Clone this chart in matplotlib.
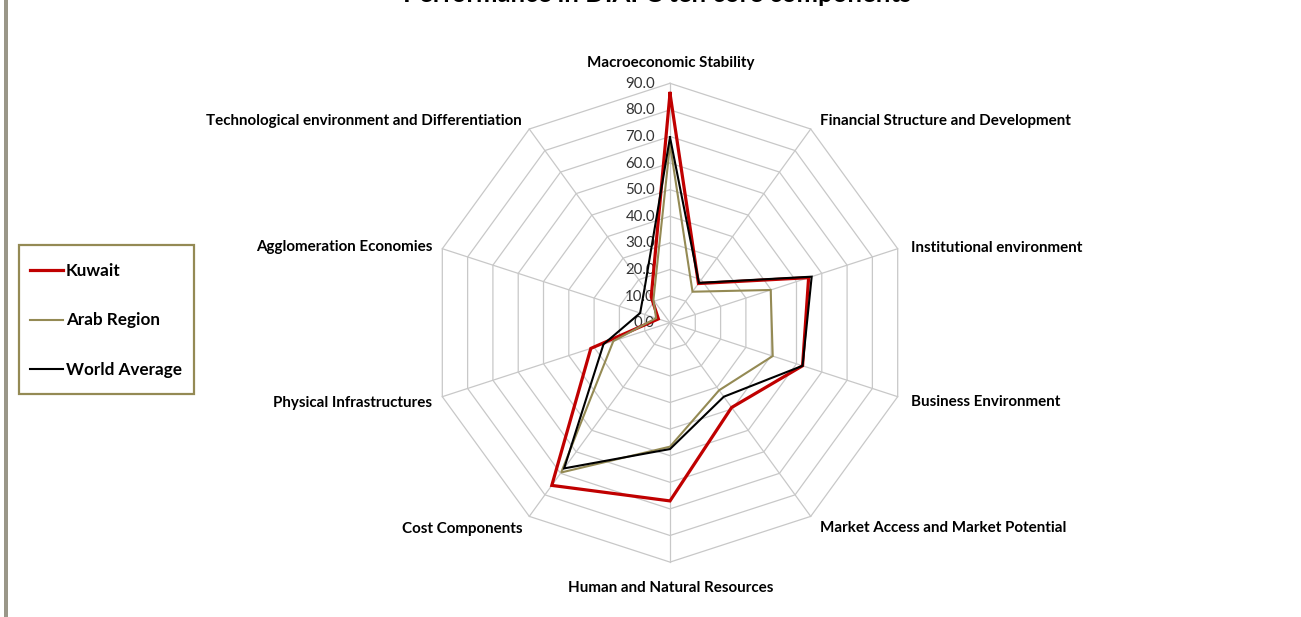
import numpy as np
import matplotlib.pyplot as plt
from matplotlib.patches import Rectangle

# Core component names, clockwise from the top
components = [
    "Macroeconomic Stability",
    "Financial Structure and Development",
    "Institutional environment",
    "Business Environment",
    "Market Access and Market Potential",
    "Human and Natural Resources",
    "Cost Components",
    "Physical Infrastructures",
    "Agglomeration Economies",
    "Technological environment and Differentiation",
]

kuwait = [86.2, 18.2, 54.8, 52.4, 39.4, 67.0, 75.6, 31.3, 4.6, 12.0]
arab_region = [67.0, 14.4, 39.8, 40.6, 31.4, 46.6, 69.6, 22.4, 5.5, 10.6]
world_average = [69.7, 18.5, 56.0, 52.4, 34.4, 47.5, 67.7, 26.3, 11.8, 16.2]

ring_values = [0, 10, 20, 30, 40, 50, 60, 70, 80, 90]

# Layout (pixel units, y grows downward)
W, H = 1301, 617
CX, CY = 670.0, 322.7
R_MAX = 239.4
V_MAX = 90.0
FONT = "Lato"

# label anchors for each component: (x, y, horizontal alignment)
label_pos = [
    (671, 62.5, "center"),
    (820, 121.5, "left"),
    (911, 247.5, "left"),
    (911, 402.5, "left"),
    (820, 528.5, "left"),
    (671, 587.5, "center"),
    (522, 528.5, "right"),
    (432, 402.5, "right"),
    (432, 247.5, "right"),
    (522, 121.5, "right"),
]

n = len(components)
angles = np.arange(n) * 2 * np.pi / n


def to_xy(values):
    r = np.asarray(values, dtype=float) * R_MAX / V_MAX
    x = CX + r * np.sin(angles)
    y = CY - r * np.cos(angles)
    return np.append(x, x[0]), np.append(y, y[0])


fig = plt.figure(figsize=(W / 100, H / 100), dpi=100)
ax = fig.add_axes([0, 0, 1, 1])
ax.set_xlim(0, W)
ax.set_ylim(H, 0)
ax.axis("off")

# polygon grid and spokes
grid_color = "#c8c8c8"
for v in ring_values[1:]:
    gx, gy = to_xy([v] * n)
    ax.plot(gx, gy, color=grid_color, lw=0.9, zorder=1)
for a in angles:
    ax.plot([CX, CX + R_MAX * np.sin(a)], [CY, CY - R_MAX * np.cos(a)],
             color=grid_color, lw=0.9, zorder=1)

# radial tick labels along the top spoke
for v in ring_values:
    ax.text(655, CY - v * R_MAX / V_MAX + 0.5, f"{v:.1f}", ha="right", va="center",
            fontsize=10.8, family=FONT, color="#333333", zorder=2)

# series
series = [
    ("Kuwait", kuwait, "#c00000", 2.3),
    ("Arab Region", arab_region, "#948a54", 1.5),
    ("World Average", world_average, "#000000", 1.5),
]
for i, (name, vals, col, lw) in enumerate(series):
    sx, sy = to_xy(vals)
    ax.plot(sx, sy, color=col, lw=lw, zorder=3 + i, solid_joinstyle="miter")

# component labels
for name, (lx, ly, ha) in zip(components, label_pos):
    ax.text(lx, ly, name, ha=ha, va="center", fontsize=10.9, fontweight="bold",
            family=FONT, color="#000000")

# title, partly above the top edge
ax.text(657, 2, "Performance in DIAFC ten core components", ha="center",
        va="baseline", fontsize=18.5, fontweight="bold", family=FONT, color="#000000")

# legend box
ax.add_patch(Rectangle((19, 245), 175, 149, fill=False, edgecolor="#948a54",
                       lw=1.6, zorder=5))
for (name, vals, col, lw), ly in zip(series, [270, 320, 369]):
    ax.plot([30, 63], [ly, ly], color=col, lw=lw, zorder=6)
    ax.text(66, ly + 0.5, name, ha="left", va="center", fontsize=12.3, fontweight="bold",
            family=FONT, color="#000000", zorder=6)

# left border strip
ax.add_patch(Rectangle((4, 0), 3.5, H, facecolor="#9a9789", edgecolor="none", zorder=5))

fig.savefig("out.png", dpi=100)
